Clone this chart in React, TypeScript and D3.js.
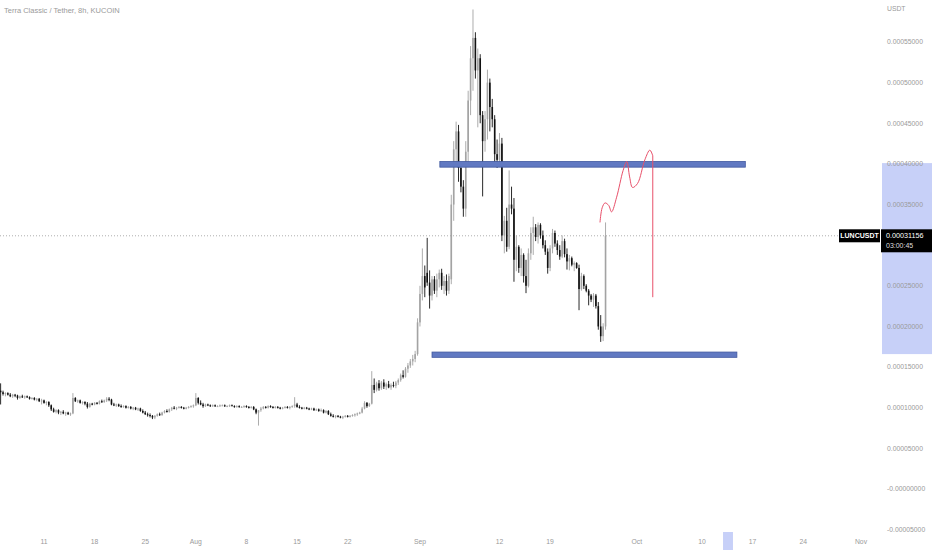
import * as d3 from "d3";

const W = 932;
const H = 550;

const title = "Terra Classic / Tether, 8h, KUCOIN";
const symbol = "LUNCUSDT";
const lastPrice = 311.56; // in 1e-6 USDT
const lastPriceText = "0.00031156";
const countdown = "03:00:45";

// 8h candles, starting here, [open, high, low, close] in 1e-6 USDT
const firstCandle = "2022-07-05T00:00:00Z";
const candleHours = 8;
const candles: [number, number, number, number][] = [
  [121,130,104,119],[119,121,115,117],[117,119,114,118],[118,119,115,116],[116,118,113,114],
  [114,117,112,116],[116,117,113,115],[115,116,110,112],[112,115,111,114],[114,116,112,113],
  [113,115,111,114],[114,115,112,113],[113,114,110,111],[111,113,110,112],[112,113,109,110],
  [110,112,108,111],[111,112,107,108],[108,111,104,109],[109,110,105,106],[106,108,103,107],
  [107,108,101,103],[103,104,96,98],[98,100,94,95],[95,98,93,97],[97,98,92,94],
  [94,96,91,95],[95,97,92,93],[93,95,90,94],[94,95,91,92],[92,94,90,93],
  [93,118,92,112],[112,113,107,108],[108,110,106,109],[109,110,105,106],[106,108,104,107],
  [107,108,103,105],[105,107,99,101],[101,106,100,105],[105,106,103,104],[104,107,103,106],
  [106,107,104,105],[105,109,104,108],[108,110,106,107],[107,110,106,109],[109,113,107,111],
  [111,113,108,110],[110,111,103,104],[104,106,102,103],[103,105,101,104],[104,105,101,102],
  [102,104,100,101],[101,103,100,102],[102,103,99,100],[100,102,99,101],[101,102,98,99],
  [99,101,97,100],[100,101,97,98],[98,100,96,99],[99,100,95,96],[96,98,93,94],
  [94,96,91,92],[92,94,89,91],[91,93,88,90],[90,91,86,88],[88,91,86,90],
  [90,93,89,92],[92,94,90,91],[91,95,90,94],[94,97,93,96],[96,98,94,95],
  [95,99,94,98],[98,101,96,100],[100,102,98,99],[99,101,97,100],[100,102,99,101],
  [101,102,99,100],[100,101,98,99],[99,101,98,100],[100,102,99,101],[101,103,100,102],
  [102,104,100,103],[103,118,102,112],[112,113,104,106],[106,109,103,104],[104,106,100,102],
  [102,105,101,104],[104,105,102,103],[103,104,101,102],[102,104,101,103],[103,104,101,102],
  [102,103,101,102],[102,104,101,103],[103,104,102,103],[103,104,101,102],[102,103,101,102],
  [102,104,101,103],[103,104,102,102],[102,103,100,101],[101,103,100,102],[102,103,100,101],
  [101,102,100,101],[101,103,100,102],[102,103,100,101],[101,102,99,100],[100,102,99,101],
  [101,102,97,98],[98,99,92,94],[94,97,78,97],[97,101,95,99],[99,102,98,101],
  [101,102,99,100],[100,103,99,102],[102,103,100,101],[101,102,99,100],[100,102,99,101],
  [101,102,99,100],[100,101,98,99],[99,101,98,100],[100,102,99,101],[101,102,99,100],
  [100,102,98,101],[101,103,100,102],[102,113,100,104],[104,106,100,101],[101,103,99,100],
  [100,101,98,99],[99,101,98,100],[100,101,98,99],[99,100,97,98],[98,100,97,99],
  [99,100,96,97],[97,99,96,98],[98,99,95,96],[96,99,95,97],[97,98,93,94],
  [94,97,93,96],[96,97,91,92],[92,94,89,90],[90,92,88,89],[89,91,87,90],
  [90,91,88,89],[89,90,87,88],[88,90,86,89],[89,91,88,90],[90,91,88,89],
  [89,91,88,90],[90,92,89,91],[91,93,89,92],[92,94,90,93],[93,95,92,94],
  [94,101,93,99],[99,108,98,106],[106,107,100,102],[102,106,101,105],[105,145,104,128],
  [128,136,118,122],[122,132,120,130],[130,134,121,124],[124,133,122,131],[131,135,123,126],
  [126,131,122,129],[129,133,124,125],[125,130,122,128],[128,132,125,127],[127,133,124,131],
  [131,136,128,134],[134,142,132,140],[140,146,136,138],[138,150,137,148],[148,155,143,152],
  [152,160,149,157],[157,165,152,160],[160,170,156,166],[166,210,164,205],[205,250,200,240],
  [240,296,232,262],[262,275,236,248],[266,309,250,254],[254,269,222,238],[238,262,232,258],
  [258,262,240,244],[244,265,236,258],[258,270,248,266],[266,271,245,250],[250,262,240,256],
  [256,264,238,244],[244,265,240,262],[258,362,252,350],[350,428,330,418],[418,452,400,440],
  [440,448,378,395],[395,402,365,372],[372,380,335,345],[345,428,335,415],[415,490,400,478],
  [478,545,460,530],[530,590,490,555],[555,562,505,515],[515,542,445,530],[530,535,450,460],
  [460,465,360,428],[428,465,415,455],[455,516,430,500],[500,505,440,470],[470,480,445,455],
  [455,460,400,412],[412,430,395,405],[405,438,398,425],[425,432,305,312],[312,336,290,330],
  [330,346,292,298],[298,392,295,350],[350,372,338,345],[345,358,255,282],[282,312,268,298],
  [298,300,266,272],[272,296,262,288],[288,290,254,262],[262,282,241,250],[250,296,248,290],
  [290,322,282,315],[315,335,288,322],[322,326,305,310],[310,328,302,325],[325,327,308,312],
  [312,318,296,300],[300,306,288,292],[292,296,265,272],[272,300,268,296],[296,320,290,315],
  [315,318,298,302],[302,306,288,294],[294,300,282,286],[286,312,284,305],[305,308,285,289],
  [289,296,270,280],[280,288,269,284],[284,286,274,276],[276,280,268,278],[278,279,271,272],
  [272,276,220,246],[246,266,244,262],[262,264,246,250],[250,252,242,244],[244,246,226,238],
  [238,240,230,233],[233,241,224,238],[238,240,222,225],[225,230,196,200],[200,214,181,188],
  [188,204,182,200],[200,328,196,311.56],
];

// horizontal zones drawn on the chart: time range and price range
const zoneStarts = ["2022-09-03T18:00:00Z", "2022-09-02T16:00:00Z"];
const zoneEnds = ["2022-10-16T00:00:00Z", "2022-10-14T20:00:00Z"];
const zoneHighs = [403, 168.5];
const zoneLows = [396, 162];

// hand drawn forecast: days after Jul 11, price
const forecastDays = [76.9, 77.2, 77.6, 78.1, 78.5, 79.2, 80.1, 80.6, 81.0, 81.4, 82.1, 83.1, 83.8, 84.2];
const forecastPrices = [328, 346, 352, 349, 341, 359, 392, 403, 384, 371, 376, 405, 417, 410];
const forecastDropTo = 236;

// selection highlights on the axes
const axisPriceHighlight = [166, 401];
const axisTimeHighlight = ["2022-10-12T22:00:00Z", "2022-10-14T07:00:00Z"];

// 0.00030000 sits under the last price label, so it is not shown
const priceTicks = [550, 500, 450, 400, 350, 250, 200, 150, 100, 50, 0, -50];
const priceTickLabels = [
  "0.00055000", "0.00050000", "0.00045000", "0.00040000", "0.00035000",
  "0.00025000", "0.00020000", "0.00015000", "0.00010000", "0.00005000", "-0.00000000", "-0.00005000",
];

const dateTicks = [
  "2022-07-11", "2022-07-18", "2022-07-25", "2022-08-01", "2022-08-08", "2022-08-15", "2022-08-22",
  "2022-09-01", "2022-09-12", "2022-09-19", "2022-10-01", "2022-10-10", "2022-10-17", "2022-10-24", "2022-11-01",
];
const dateTickLabels = ["11", "18", "25", "Aug", "8", "15", "22", "Sep", "12", "19", "Oct", "10", "17", "24", "Nov"];

const upColor = "#a3a3a3";
const downColor = "#111111";
const textColor = "#9a9a9a";
const font = "Liberation Sans, Arial, sans-serif";

export default function App() {
  const x = d3
    .scaleUtc()
    .domain([new Date("2022-07-11T00:00:00Z"), new Date("2022-11-01T00:00:00Z")])
    .range([44, 861]);
  const y = d3.scaleLinear().domain([0, 550]).range([489, 42]);

  const t0 = new Date(firstCandle).getTime();
  const dayMs = 86400000;
  const base = new Date("2022-07-11T00:00:00Z").getTime();
  const bodyW = 1.6;

  const wave = d3
    .line<number>()
    .x((_, i) => x(new Date(base + forecastDays[i] * dayMs)))
    .y((p) => y(p))
    .curve(d3.curveCatmullRom.alpha(0.5))(forecastPrices);
  const dropX = x(new Date(base + forecastDays[forecastDays.length - 1] * dayMs));

  const plotRight = 880;

  return (
    <svg
      width={W}
      height={H}
      style={{ position: "absolute", left: 0, top: 0, background: "#fff" }}
      fontFamily={font}
    >
      <rect width={W} height={H} fill="#fff" />

      {/* axis highlights */}
      <rect
        x={plotRight + 2}
        y={y(axisPriceHighlight[1])}
        width={W - plotRight - 2}
        height={y(axisPriceHighlight[0]) - y(axisPriceHighlight[1])}
        fill="#c7d0f8"
      />
      <rect
        x={x(new Date(axisTimeHighlight[0]))}
        y={532}
        width={x(new Date(axisTimeHighlight[1])) - x(new Date(axisTimeHighlight[0]))}
        height={H - 532}
        fill="#c7d0f8"
      />

      <text x={4} y={13} fontSize={7.5} fill={textColor}>
        {title}
      </text>

      {/* last price dotted line */}
      <line
        x1={0}
        x2={840}
        y1={y(lastPrice)}
        y2={y(lastPrice)}
        stroke="#777"
        strokeWidth={0.6}
        strokeDasharray="1 2"
      />

      {/* candles */}
      <g>
        {candles.map(([o, h, l, c], i) => {
          const cx = x(new Date(t0 + i * candleHours * 3600000));
          const up = c >= o;
          const color = up ? upColor : downColor;
          const top = y(Math.max(o, c));
          const bh = Math.max(1, Math.abs(y(o) - y(c)));
          return (
            <g key={i}>
              <line x1={cx} x2={cx} y1={y(h)} y2={y(l)} stroke={color} strokeWidth={0.9} />
              <rect x={cx - bodyW / 2} y={top} width={bodyW} height={bh} fill={color} />
            </g>
          );
        })}
      </g>

      {/* zones */}
      {zoneStarts.map((s, i) => (
        <rect
          key={i}
          x={x(new Date(s))}
          y={y(zoneHighs[i])}
          width={x(new Date(zoneEnds[i])) - x(new Date(s))}
          height={y(zoneLows[i]) - y(zoneHighs[i])}
          fill="#6179c2"
          stroke="#40589f"
          strokeWidth={0.8}
        />
      ))}

      {/* forecast */}
      <path d={wave ?? ""} fill="none" stroke="#e8506a" strokeWidth={1} />
      <line
        x1={dropX}
        x2={dropX}
        y1={y(forecastPrices[forecastPrices.length - 1])}
        y2={y(forecastDropTo)}
        stroke="#e8506a"
        strokeWidth={1}
      />

      {/* price axis */}
      <text x={887} y={11} fontSize={6.8} fill={textColor}>
        USDT
      </text>
      {priceTicks.map((p, i) => (
        <text key={p} x={887} y={y(p) + 2.4} fontSize={6.8} fill={textColor}>
          {priceTickLabels[i]}
        </text>
      ))}

      {/* date axis */}
      {dateTicks.map((d, i) => (
        <text
          key={d}
          x={x(new Date(d + "T00:00:00Z"))}
          y={543.5}
          fontSize={6.8}
          fill={textColor}
          textAnchor="middle"
        >
          {dateTickLabels[i]}
        </text>
      ))}

      {/* last price labels */}
      <rect x={839} y={y(lastPrice) - 6.5} width={41} height={13} fill="#000" />
      <text x={859.5} y={y(lastPrice) + 2.5} fontSize={7} fill="#fff" textAnchor="middle" fontWeight="bold">
        {symbol}
      </text>
      <rect x={881} y={y(lastPrice) - 6.5} width={W - 881} height={23} fill="#000" />
      <text x={886} y={y(lastPrice) + 2.5} fontSize={7.2} fill="#fff">
        {lastPriceText}
      </text>
      <text x={886} y={y(lastPrice) + 12} fontSize={7} fill="#ddd">
        {countdown}
      </text>
    </svg>
  );
}
